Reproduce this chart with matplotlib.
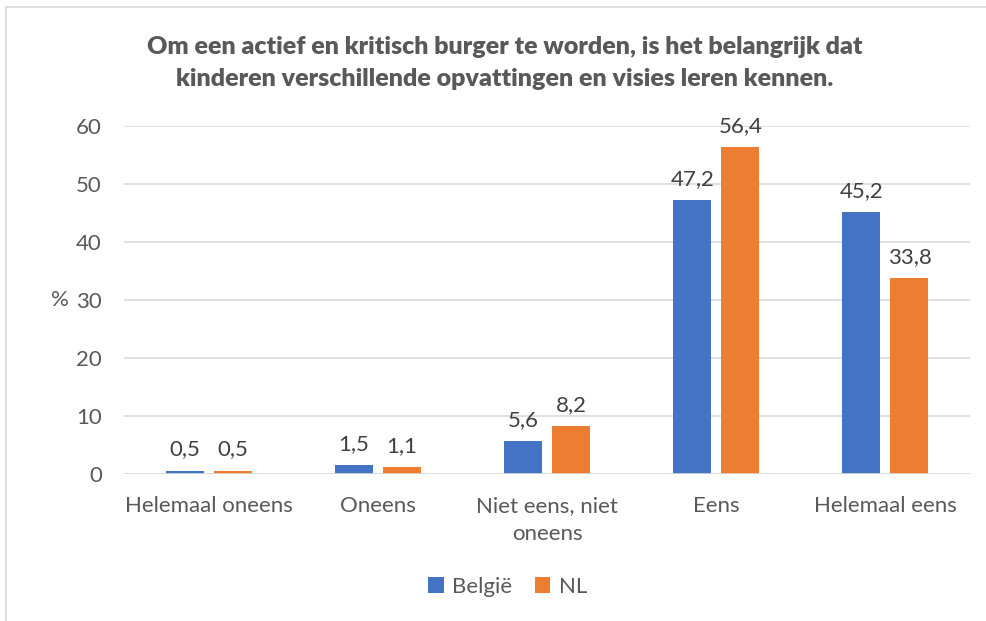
import matplotlib.pyplot as plt
import numpy as np
from matplotlib.patches import Rectangle

categories = ["Helemaal oneens", "Oneens", "Niet eens, niet\noneens", "Eens", "Helemaal eens"]
belgie = [0.5, 1.5, 5.6, 47.2, 45.2]
nl = [0.5, 1.1, 8.2, 56.4, 33.8]
series_names = ["België", "NL"]
title = ("Om een actief en kritisch burger te worden, is het belangrijk dat\n"
         "kinderen verschillende opvattingen en visies leren kennen.")

blue = "#4472C4"
orange = "#ED7D31"
txt = "#595959"

plt.rcParams['font.family'] = ['Lato', 'DejaVu Sans']

fig = plt.figure(figsize=(9.86, 6.21), dpi=100)
ax = fig.add_axes([0.1258, 0.2375, 0.9838 - 0.1258, 0.797 - 0.2375])

# chart border
fig.patches.append(Rectangle((6 / 986, -0.05), 1.2, 1 - 7 / 621 + 0.05,
                             transform=fig.transFigure, fill=False,
                             edgecolor="#d9d9d9", linewidth=1.2))

x = np.arange(len(categories))
w = 0.225
off = 0.142
b1 = ax.bar(x - off, belgie, w, color=blue, label=series_names[0])
b2 = ax.bar(x + off, nl, w, color=orange, label=series_names[1])

for bars, vals in ((b1, belgie), (b2, nl)):
    for rect, v in zip(bars, vals):
        ax.annotate(f"{v:.1f}".replace(".", ","),
                    (rect.get_x() + rect.get_width() / 2, v),
                    xytext=(0, 8), textcoords="offset points",
                    ha="center", va="bottom", fontsize=16, color="#404040")

ax.set_xlim(-0.5, len(categories) - 0.5)
ax.set_ylim(0, 60)
ax.set_yticks(range(0, 61, 10))
ax.yaxis.grid(True, color="#d9d9d9", linewidth=1.2)
ax.set_axisbelow(True)
for s in ax.spines.values():
    s.set_visible(False)
ax.tick_params(axis="both", length=0, labelsize=16, labelcolor=txt)
ax.tick_params(axis="y", pad=16)
ax.tick_params(axis="x", pad=16)
ax.set_xticks(x)
ax.set_xticklabels(categories, linespacing=1.5)
ax.axhline(0, color="#d9d9d9", linewidth=1.2)

ax.set_ylabel("%", rotation=0, fontsize=16, color=txt, va="center", ha="center")
ax.yaxis.set_label_coords(-0.0757, 0.5)

fig.text(0.512, 1 - 63 / 621, title, ha="center", va="center", fontsize=18,
         fontweight="heavy", color=txt, linespacing=1.6)

fig.legend(handles=[b1, b2], loc="center", bbox_to_anchor=(0.515, 1 - 587 / 621),
           ncol=2, frameon=False, fontsize=16, labelcolor=txt,
           handlelength=0.7, handleheight=0.7, handletextpad=0.4, columnspacing=1.0)

fig.savefig("out.png", dpi=100)
